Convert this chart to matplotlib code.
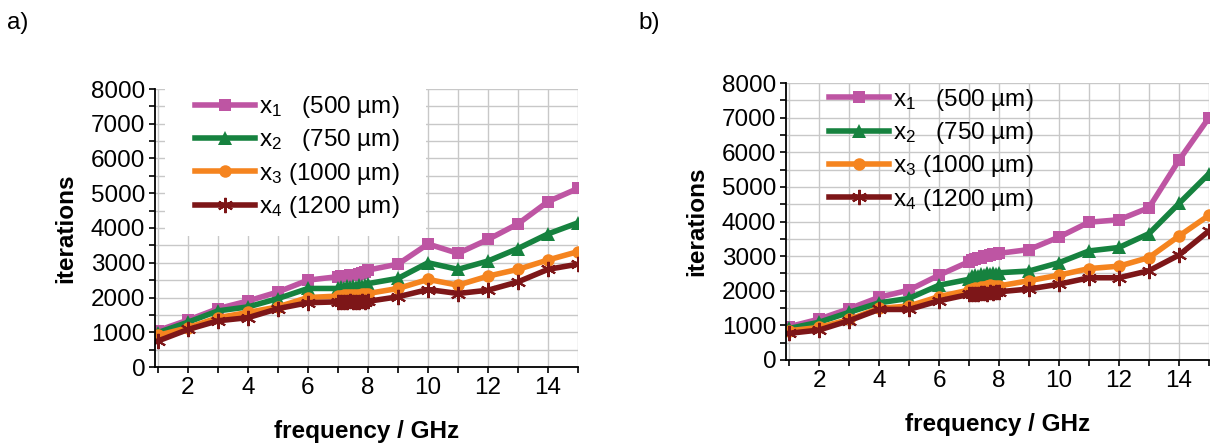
import matplotlib
matplotlib.use("Agg")
import matplotlib.pyplot as plt
from matplotlib.ticker import MultipleLocator
from matplotlib.patches import Rectangle

plt.rcParams['font.family'] = ['Liberation Sans', 'DejaVu Sans']
plt.rcParams['mathtext.fontset'] = 'custom'
plt.rcParams['mathtext.rm'] = 'Liberation Sans'
plt.rcParams['mathtext.it'] = 'Liberation Sans'

# frequency points (GHz), fine steps between 7 and 8 GHz
freq = [1, 2, 3, 4, 5, 6, 7, 7.1, 7.2, 7.3, 7.4, 7.5, 7.6, 7.7, 7.8, 7.9,
        8, 9, 10, 11, 12, 13, 14, 15]

# a) iterations
a_x1 = [1050, 1350, 1680, 1900, 2160, 2500, 2600, 2610, 2620, 2630, 2640,
        2650, 2660, 2680, 2700, 2730, 2790, 2960, 3540, 3270, 3670, 4120,
        4760, 5140]
a_x2 = [990, 1290, 1615, 1730, 1970, 2260, 2260, 2310, 2280, 2330, 2300,
        2340, 2310, 2350, 2320, 2360, 2400, 2550, 3000, 2810, 3050, 3410,
        3830, 4150]
a_x3 = [910, 1130, 1420, 1570, 1730, 2000, 2040, 2050, 2060, 2060, 2070,
        2070, 2080, 2080, 2090, 2100, 2115, 2260, 2520, 2355, 2615, 2810,
        3080, 3320]
a_x4 = [750, 1080, 1330, 1420, 1680, 1850, 1875, 1870, 1880, 1870, 1885,
        1875, 1880, 1870, 1885, 1880, 1890, 2020, 2230, 2115, 2210, 2450,
        2810, 2960]

# b) iterations
b_x1 = [960, 1180, 1480, 1810, 2020, 2450, 2840, 2880, 2910, 2940, 2960,
        2990, 3010, 3030, 3050, 3070, 3080, 3190, 3550, 3980, 4050, 4400,
        5770, 7000]
b_x2 = [910, 1090, 1375, 1650, 1780, 2160, 2330, 2420, 2460, 2440, 2480,
        2460, 2500, 2480, 2510, 2490, 2520, 2570, 2810, 3150, 3250, 3650,
        4520, 5380]
b_x3 = [845, 940, 1170, 1490, 1560, 1830, 2020, 2050, 2080, 2060, 2100,
        2120, 2150, 2170, 2140, 2130, 2140, 2290, 2450, 2640, 2710, 2960,
        3580, 4180]
b_x4 = [770, 865, 1135, 1460, 1460, 1710, 1895, 1900, 1920, 1910, 1930,
        1940, 1920, 1950, 1940, 1960, 1970, 2050, 2190, 2375, 2375, 2580,
        3030, 3730]

labels = ['x$_1$   (500 µm)', 'x$_2$   (750 µm)',
          'x$_3$ (1000 µm)', 'x$_4$ (1200 µm)']
colors = ['#BE55A3', '#16823F', '#F5841F', '#7D1618']
markers = ['s', '^', 'o', '*']
msizes = [8, 10, 9, 11]

FS = 17.5

fig = plt.figure(figsize=(12.13, 4.43), dpi=100)
W, H = 1213, 443
ax_a = fig.add_axes([155 / W, (H - 367) / H, 423 / W, 278 / H])
ax_b = fig.add_axes([786 / W, (H - 360) / H, 423 / W, 277 / H])


def draw_panel(ax, series):
    ax.set_axisbelow(True)
    for vals, lab, c, m, ms in zip(series, labels, colors, markers, msizes):
        if m == '*':
            ax.plot(freq, vals, color=c, lw=4, label=lab, marker=(6, 2, 0),
                    markersize=ms, markeredgewidth=1.5, markeredgecolor=c)
        else:
            ax.plot(freq, vals, color=c, lw=4, label=lab, marker=m,
                    markersize=ms, markeredgewidth=0)
    ax.set_xlim(0.9, 15)
    ax.set_ylim(0, 8000)
    ax.xaxis.set_major_locator(MultipleLocator(2))
    ax.xaxis.set_minor_locator(MultipleLocator(1))
    ax.yaxis.set_major_locator(MultipleLocator(1000))
    ax.yaxis.set_minor_locator(MultipleLocator(500))
    ax.grid(which='both', color='#c8c8c8', lw=1)
    for s in ['top', 'right']:
        ax.spines[s].set_visible(False)
    for s in ['left', 'bottom']:
        ax.spines[s].set_linewidth(1.3)
    ax.tick_params(which='both', direction='out', length=4, width=1.2,
                   labelsize=FS, pad=3)
    ax.set_xlabel('frequency / GHz', fontsize=FS, fontweight='bold',
                  labelpad=15)
    ax.set_ylabel('iterations', fontsize=FS, fontweight='bold', labelpad=10)


draw_panel(ax_a, [a_x1, a_x2, a_x3, a_x4])
draw_panel(ax_b, [b_x1, b_x2, b_x3, b_x4])

# white area behind the legend of panel a
ax_a.add_patch(Rectangle((0.024, 0.47), 0.617, 0.53, transform=ax_a.transAxes,
                         facecolor='white', edgecolor='none', zorder=1))

leg_kw = dict(loc='upper left', frameon=False, fontsize=FS, handlelength=2.45,
              handletextpad=0.2, labelspacing=0.3, borderpad=0)
ax_a.legend(bbox_to_anchor=(0.066, 1.025), **leg_kw)
ax_b.legend(bbox_to_anchor=(0.073, 1.03), **leg_kw)

fig.text(7 / W, 1 - 23 / H, 'a)', fontsize=FS, va='center', ha='left')
fig.text(638 / W, 1 - 23 / H, 'b)', fontsize=FS, va='center', ha='left')

fig.savefig('out.png', dpi=100)
